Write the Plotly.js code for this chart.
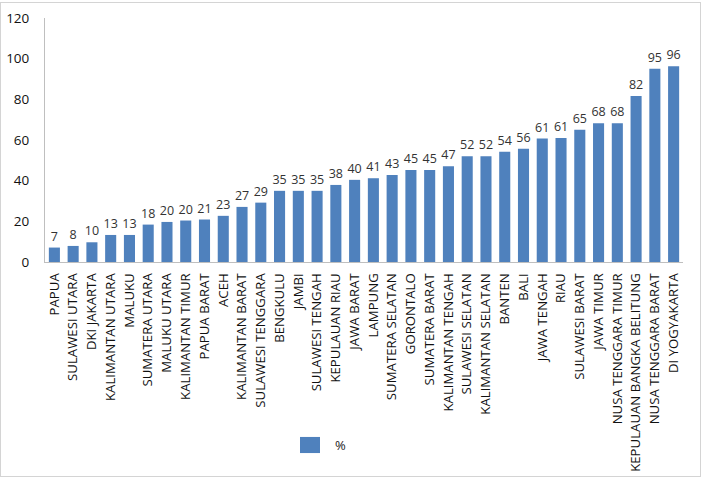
<!DOCTYPE html>
<html>
<head>
<meta charset="utf-8">
<script src="https://cdn.plot.ly/plotly-3.0.1.min.js"></script>
<style>
body { margin:0; padding:0; background:#fff; }
#chart { width:704px; height:483px; position:absolute; left:0; top:0; }
#frame { position:absolute; left:0; top:2px; width:701px; height:475px; border:1px solid #d4d4d4; pointer-events:none; box-sizing:border-box; }
</style>
</head>
<body>
<div id="chart"></div>
<div id="frame"></div>
<script>
const provinces = ["PAPUA","SULAWESI UTARA","DKI JAKARTA","KALIMANTAN UTARA","MALUKU","SUMATERA UTARA","MALUKU UTARA","KALIMANTAN TIMUR","PAPUA BARAT","ACEH","KALIMANTAN BARAT","SULAWESI TENGGARA","BENGKULU","JAMBI","SULAWESI TENGAH","KEPULAUAN RIAU","JAWA BARAT","LAMPUNG","SUMATERA SELATAN","GORONTALO","SUMATERA BARAT","KALIMANTAN TENGAH","SULAWESI SELATAN","KALIMANTAN SELATAN","BANTEN","BALI","JAWA TENGAH","RIAU","SULAWESI BARAT","JAWA TIMUR","NUSA TENGGARA TIMUR","KEPULAUAN BANGKA BELITUNG","NUSA TENGGARA BARAT","DI YOGYAKARTA"];
const percent = [7.1,7.9,9.7,13.3,13.3,18.4,19.7,20.4,20.9,22.7,27.1,29.2,35.0,35.0,35.0,37.9,40.4,41.2,42.8,45.2,45.2,47.1,52.0,52.0,54.2,55.7,60.7,61.0,65.1,68.2,68.2,81.7,95.1,96.3];
const seriesName = "%";
const yTicks = [0,20,40,60,80,100,120];

const fontFam = "Open Sans, Lato, Liberation Sans, sans-serif";
const barColor = "#4f81bd";

Plotly.newPlot("chart", [{
  type: "bar",
  x: provinces,
  y: percent,
  name: seriesName,
  marker: { color: barColor },
  text: percent.map(v => Math.round(v).toString()),
  texttemplate: "%{text}",
  textposition: "outside",
  textangle: 0,
  constraintext: "none",
  cliponaxis: false,
  textfont: { family: fontFam, size: 12.5, color: "#333" },
  hoverinfo: "x+y"
}], {
  width: 704, height: 483,
  margin: { l: 45, r: 21, t: 18, b: 221 },
  paper_bgcolor: "#fff", plot_bgcolor: "#fff",
  bargap: 0.41,
  showlegend: false,
  shapes: [{
    type: "rect", xref: "paper", yref: "paper",
    x0: 0.3997, x1: 0.431, y0: -0.717, y1: -0.783,
    fillcolor: barColor, line: { width: 0 }
  }],
  annotations: [{
    xref: "paper", yref: "paper", x: 0.452, y: -0.752,
    xanchor: "left", yanchor: "middle", showarrow: false,
    text: seriesName,
    font: { family: fontFam, size: 13, color: "#222" }
  }],
  xaxis: {
    type: "category",
    tickangle: -90,
    tickfont: { family: fontFam, size: 13.2, color: "#111" },
    showline: true, linecolor: "#bfbfbf", linewidth: 1,
    ticks: "", showgrid: false, zeroline: false, ticklabelstandoff: 5, fixedrange: true
  },
  yaxis: {
    range: [0, 120],
    tickvals: yTicks,
    ticktext: yTicks.map(String),
    tickfont: { family: fontFam, size: 13.5, color: "#111" },
    showline: true, linecolor: "#bfbfbf", linewidth: 1,
    ticks: "", showgrid: false, zeroline: false, ticklabelstandoff: 12, fixedrange: true
  }
}, { displayModeBar: false, staticPlot: true });
</script>
</body>
</html>
